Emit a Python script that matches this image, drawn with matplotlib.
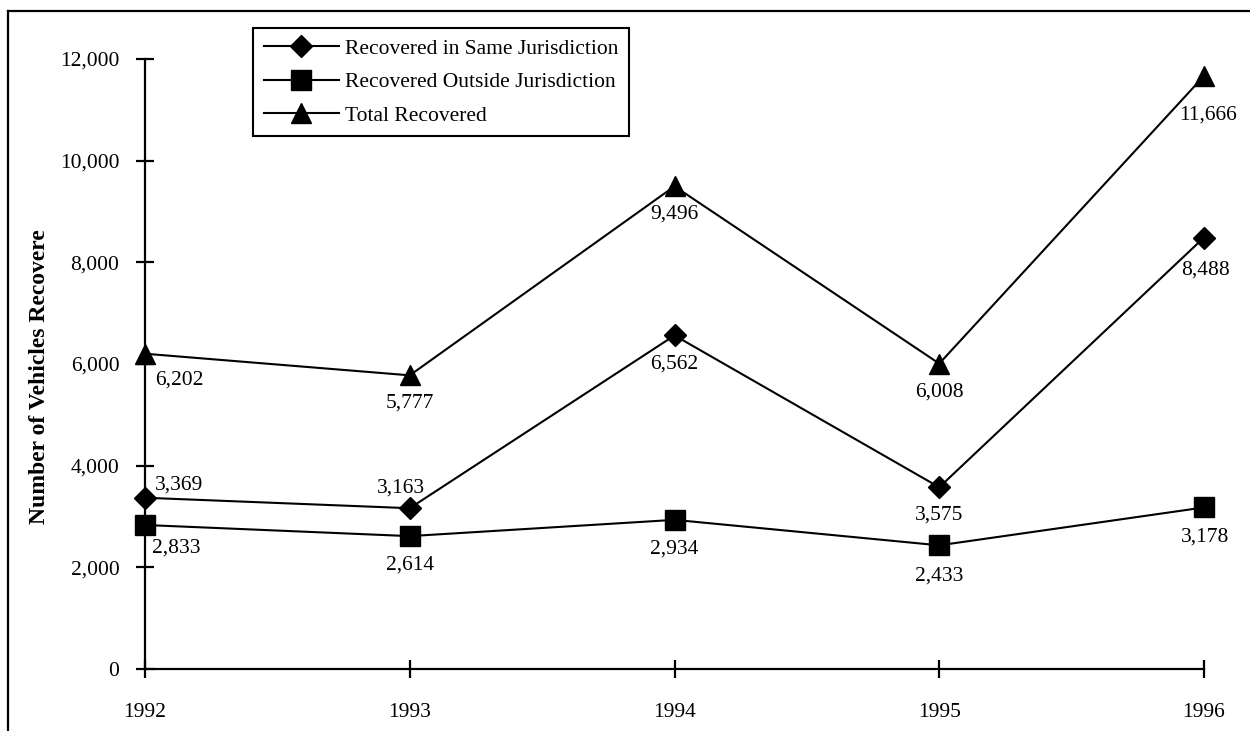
import matplotlib
matplotlib.use("Agg")
import matplotlib.pyplot as plt
from matplotlib.lines import Line2D

years = [1992, 1993, 1994, 1995, 1996]
same_jurisdiction = [3369, 3163, 6562, 3575, 8488]
outside_jurisdiction = [2833, 2614, 2934, 2433, 3178]
total_recovered = [6202, 5777, 9496, 6008, 11666]
series_names = ["Recovered in Same Jurisdiction", "Recovered Outside Jurisdiction", "Total Recovered"]
y_ticks = [0, 2000, 4000, 6000, 8000, 10000, 12000]

plt.rcParams['font.family'] = ['Liberation Serif', 'DejaVu Serif']
FS = 15.5

fig = plt.figure(figsize=(12.5, 7.31), dpi=100)
W, H = 1250, 731
ax = fig.add_axes([145 / W, 1 - 669 / H, (1204 - 145) / W, (669 - 59) / H])

lw = 1.5
ax.plot(years, same_jurisdiction, color='black', lw=lw, marker='D', ms=11, label=series_names[0], clip_on=False, zorder=3)
ax.plot(years, outside_jurisdiction, color='black', lw=lw, marker='s', ms=14, label=series_names[1], clip_on=False, zorder=3)
ax.plot(years, total_recovered, color='black', lw=lw, marker='^', ms=15, label=series_names[2], clip_on=False, zorder=3)

ax.set_xlim(1992, 1996)
ax.set_ylim(0, 12000)
ax.set_xticks(years)
ax.set_xticklabels([str(y) for y in years])
ax.set_yticks(y_ticks)
ax.set_yticklabels([f"{v:,}" for v in y_ticks])
for s in ['top', 'right']:
    ax.spines[s].set_visible(False)
for s in ['left', 'bottom']:
    ax.spines[s].set_linewidth(1.6)
ax.tick_params(axis='y', direction='inout', length=13, width=1.6, labelsize=FS, pad=12)
ax.tick_params(axis='x', direction='inout', length=13, width=1.6, labelsize=FS, pad=18)

ax.set_ylabel("Number of Vehicles Recovere", fontsize=17, fontweight='bold')
ax.yaxis.set_label_coords((50 - 145) / (1204 - 145), 0.48)

def lab(x, y, dx, dy, ha='center'):
    ax.annotate(f"{y:,}", (x, y), xytext=(dx, dy - 3), textcoords='offset pixels',
                ha=ha, va='center', fontsize=FS)

tot_off = [(10, -23, 'left'), (0, -25, 'center'), (0, -25, 'center'), (0, -25, 'center'), (4, -36, 'center')]
for x, y, (dx, dy, ha) in zip(years, total_recovered, tot_off):
    lab(x, y, dx, dy, ha)
same_off = [(10, 16, 'left'), (-9, 23, 'center'), (0, -26, 'center'), (0, -25, 'center'), (1, -30, 'center')]
for x, y, (dx, dy, ha) in zip(years, same_jurisdiction, same_off):
    lab(x, y, dx, dy, ha)
out_off = [(7, -20, 'left'), (0, -26, 'center'), (0, -26, 'center'), (0, -28, 'center'), (1, -27, 'center')]
for x, y, (dx, dy, ha) in zip(years, outside_jurisdiction, out_off):
    lab(x, y, dx, dy, ha)

leg = ax.legend(loc='upper left', bbox_to_anchor=(253 / W, 1 - 28 / H), bbox_transform=fig.transFigure,
                borderaxespad=0, fontsize=FS, frameon=True, fancybox=False, edgecolor='black',
                framealpha=1, handlelength=3.5, handletextpad=0.28, labelspacing=0.62, borderpad=0.5)
leg.get_frame().set_linewidth(1.5)

# outer frame (left and top edges visible)
fig.add_artist(Line2D([8 / W, 8 / W], [1 - 11 / H, 0], color='black', lw=1.6, transform=fig.transFigure))
fig.add_artist(Line2D([8 / W, 1], [1 - 11 / H, 1 - 11 / H], color='black', lw=1.6, transform=fig.transFigure))

fig.savefig("out.png", dpi=100)
